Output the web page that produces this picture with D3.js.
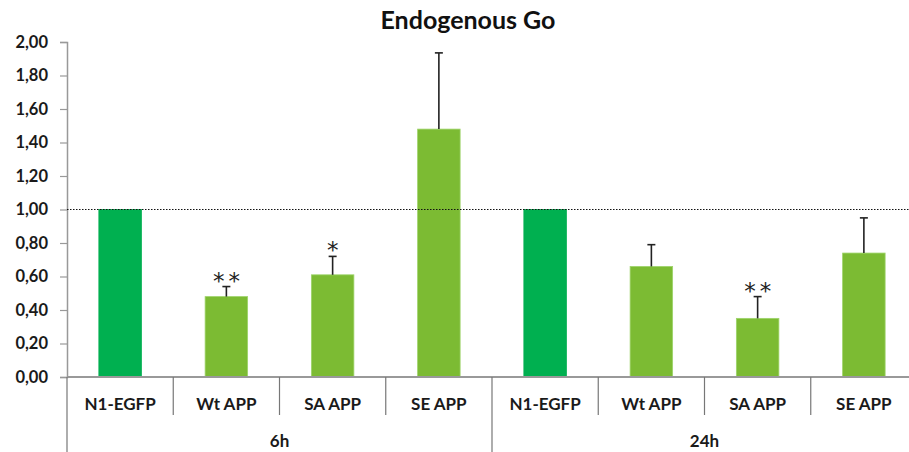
<!DOCTYPE html>
<html>
<head>
<meta charset="utf-8">
<script src="https://cdn.jsdelivr.net/npm/d3@7"></script>
<style>
  html, body { margin: 0; padding: 0; background: #fff; }
  svg { display: block; }
  text { font-family: Lato, "Open Sans", "Liberation Sans", sans-serif; }
</style>
</head>
<body>
<svg id="chart" width="909" height="452"></svg>
<script>
// Relative Go levels, normalised to the N1-EGFP control at each time point
const groups = ["6h", "24h"];
const conditions = ["N1-EGFP", "Wt APP", "SA APP", "SE APP"];
const values6h = [1.00, 0.48, 0.61, 1.48];
const errors6h = [0, 0.06, 0.11, 0.455];
const values24h = [1.00, 0.66, 0.35, 0.74];
const errors24h = [0, 0.13, 0.13, 0.21];
const stars6h = ["", "**", "*", ""];
const stars24h = ["", "", "**", ""];
const yTicks = [0, 0.2, 0.4, 0.6, 0.8, 1.0, 1.2, 1.4, 1.6, 1.8, 2.0];
const referenceLevel = 1.0;

const rows = [];
groups.forEach((g, gi) => {
  const vals = gi === 0 ? values6h : values24h;
  const errs = gi === 0 ? errors6h : errors24h;
  const stars = gi === 0 ? stars6h : stars24h;
  conditions.forEach((c, ci) => {
    rows.push({ key: g + "|" + c, group: g, cond: c, value: vals[ci], err: errs[ci], star: stars[ci], control: ci === 0 });
  });
});

const svg = d3.select("#chart");
const plotLeft = 67, plotRight = 917, plotTop = 42, plotBottom = 377;

const x = d3.scaleBand()
  .domain(rows.map(d => d.key))
  .range([plotLeft, plotRight])
  .paddingInner(0.6)
  .paddingOuter(0.3);
const step = x.step();

const y = d3.scaleLinear().domain([0, 2]).range([plotBottom, plotTop]);

// Title
svg.append("text")
  .attr("x", 468).attr("y", 29)
  .attr("text-anchor", "middle")
  .attr("font-size", 25).attr("font-weight", "bold")
  .attr("fill", "#111")
  .text("Endogenous Go");

// Y axis
const yAxis = d3.axisLeft(y)
  .tickValues(yTicks)
  .tickSize(7)
  .tickPadding(12)
  .tickFormat(d => d3.format(".2f")(d).replace(".", ","));
const ya = svg.append("g").attr("transform", `translate(${plotLeft},0)`).call(yAxis);
ya.select(".domain").attr("stroke", "#999").attr("stroke-width", 1.5);
ya.selectAll(".tick line").attr("stroke", "#999").attr("stroke-width", 1.2);
ya.selectAll(".tick text")
  .attr("font-size", 16.5).attr("font-weight", "bold").attr("fill", "#1a1a1a")
  .style("font-family", 'Lato, "Open Sans", sans-serif');

// Bars
svg.append("g").selectAll("rect")
  .data(rows)
  .join("rect")
  .attr("x", d => x(d.key))
  .attr("y", d => y(d.value))
  .attr("width", x.bandwidth())
  .attr("height", d => y(0) - y(d.value))
  .attr("fill", d => d.control ? "#00B050" : "#7CBB33")
  .attr("stroke", d => d.control ? "#00B050" : "#9ED46A")
  .attr("stroke-width", 0.8);

// Reference line at 1,00
svg.append("line")
  .attr("x1", plotLeft).attr("x2", plotRight)
  .attr("y1", y(referenceLevel)).attr("y2", y(referenceLevel))
  .attr("stroke", "#111").attr("stroke-width", 1.2)
  .attr("stroke-dasharray", "1.5,1.5");

// Error bars (upper only)
const eb = svg.append("g").selectAll("g")
  .data(rows.filter(d => d.err > 0))
  .join("g");
eb.append("line")
  .attr("x1", d => x(d.key) + x.bandwidth() / 2)
  .attr("x2", d => x(d.key) + x.bandwidth() / 2)
  .attr("y1", d => y(d.value))
  .attr("y2", d => y(d.value + d.err))
  .attr("stroke", "#222").attr("stroke-width", 1.6);
eb.append("line")
  .attr("x1", d => x(d.key) + x.bandwidth() / 2 - 4)
  .attr("x2", d => x(d.key) + x.bandwidth() / 2 + 4)
  .attr("y1", d => y(d.value + d.err))
  .attr("y2", d => y(d.value + d.err))
  .attr("stroke", "#222").attr("stroke-width", 1.6);

// Significance marks
svg.append("g").selectAll("text")
  .data(rows.filter(d => d.star))
  .join("text")
  .attr("x", d => x(d.key) + x.bandwidth() / 2 + (d.star.length > 1 ? 2 : 0))
  .attr("y", d => y(d.value + d.err) + 2)
  .attr("text-anchor", "middle")
  .attr("font-size", 23)
  .attr("letter-spacing", d => d.star.length > 1 ? 4 : 0)
  .style("font-family", '"DejaVu Sans", sans-serif')
  .attr("fill", "#222")
  .text(d => d.star);

// X axis baseline
svg.append("line")
  .attr("x1", plotLeft).attr("x2", plotRight)
  .attr("y1", plotBottom).attr("y2", plotBottom)
  .attr("stroke", "#999").attr("stroke-width", 2);

// Category separators and group separators
const seps = d3.range(0, rows.length + 1);
svg.append("g").selectAll("line")
  .data(seps)
  .join("line")
  .attr("x1", i => plotLeft + i * step)
  .attr("x2", i => plotLeft + i * step)
  .attr("y1", plotBottom)
  .attr("y2", i => (i % conditions.length === 0) ? 452 : 415)
  .attr("stroke", "#777").attr("stroke-width", 1.2);

// Category labels
svg.append("g").selectAll("text")
  .data(rows)
  .join("text")
  .attr("x", d => x(d.key) + x.bandwidth() / 2)
  .attr("y", 410)
  .attr("text-anchor", "middle")
  .attr("font-size", 17).attr("font-weight", "bold")
  .attr("fill", "#1a1a1a")
  .text(d => d.cond);

// Group labels
svg.append("g").selectAll("text")
  .data(groups)
  .join("text")
  .attr("x", (g, i) => plotLeft + (i * conditions.length + conditions.length / 2) * step)
  .attr("y", 447)
  .attr("text-anchor", "middle")
  .attr("font-size", 17).attr("font-weight", "bold")
  .attr("fill", "#1a1a1a")
  .text(g => g);
</script>
</body>
</html>
